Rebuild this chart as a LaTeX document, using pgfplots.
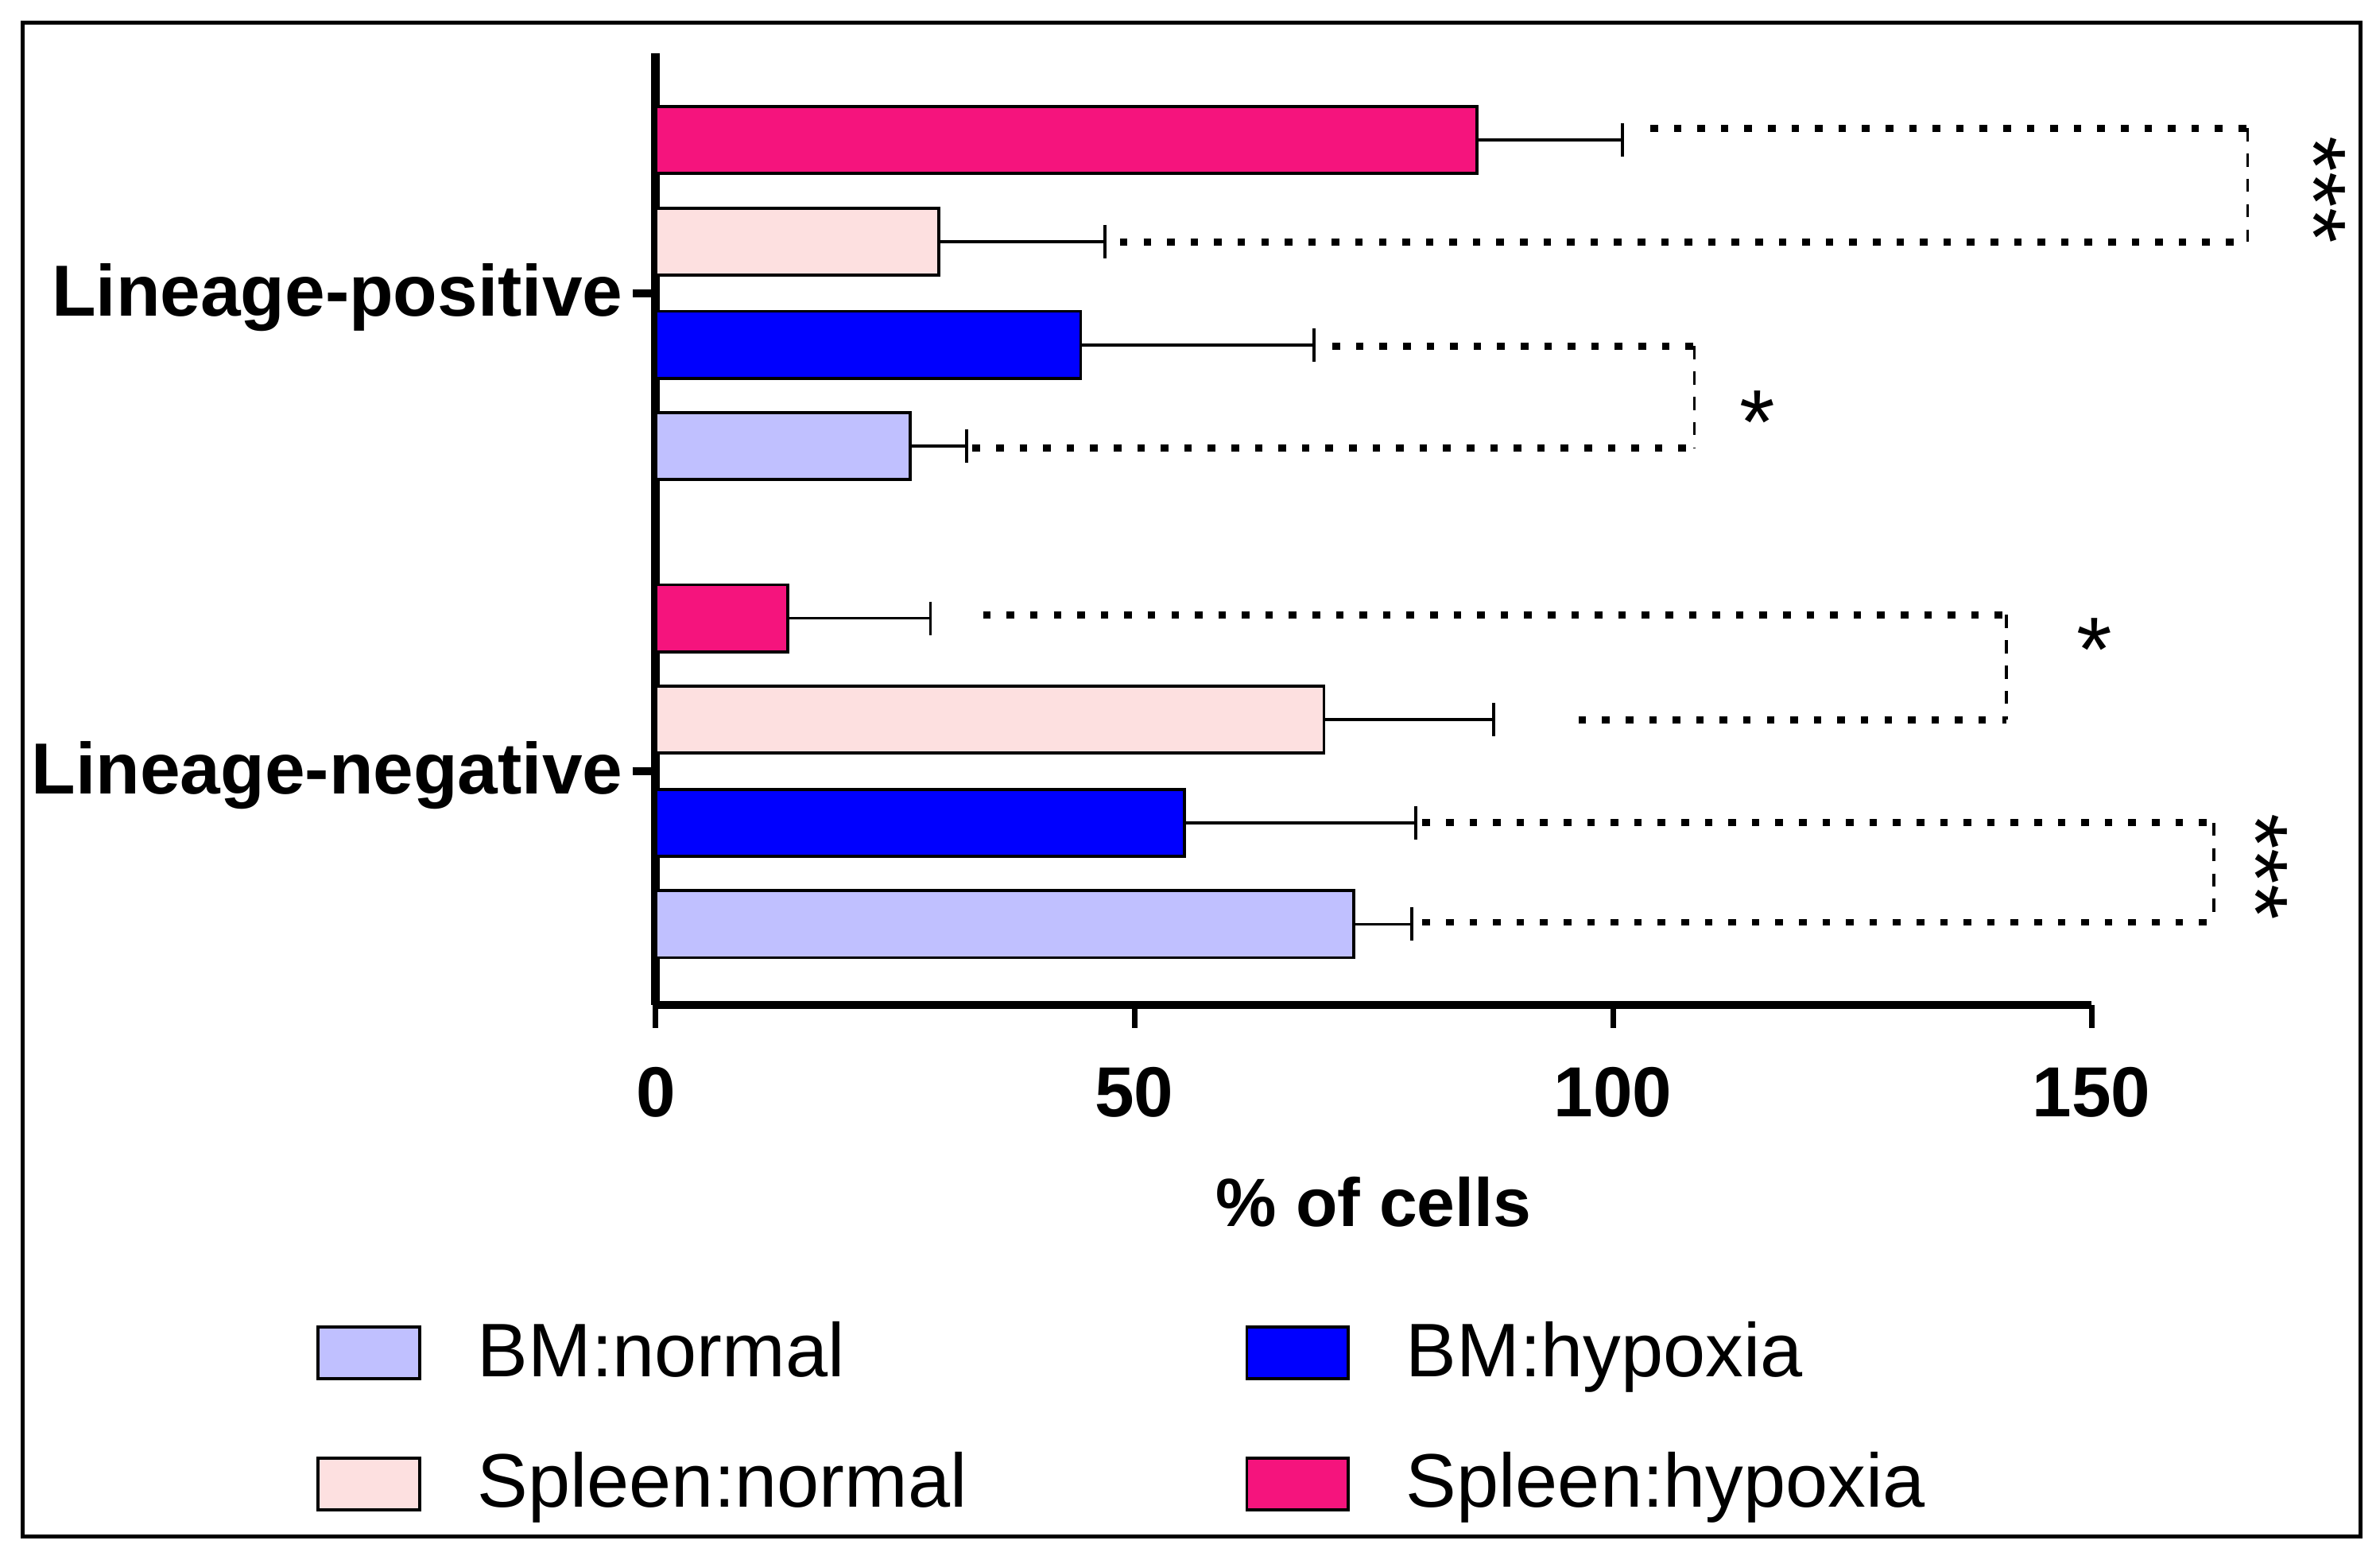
\documentclass[border=0pt]{standalone}
\usepackage{fontspec}
\setmainfont{Liberation Sans}
\usepackage{pgfplots}
\pgfplotsset{compat=1.18}
\definecolor{bmn}{RGB}{192,192,255}
\definecolor{bmh}{RGB}{0,0,255}
\definecolor{spn}{RGB}{253,224,224}
\definecolor{sph}{RGB}{245,20,125}
\pgfplotsset{
  mybar/.style={xbar, bar shift=0pt, bar width=0.14, draw=black, line width=0.6pt, fill=#1,
    legend image code/.code={\draw[##1, line width=0.6pt] (0pt,-5.1pt) rectangle (20.1pt,5.1pt);},
    error bars/.cd, x dir=plus, x explicit, error mark=|,
    error bar style={line width=0.6pt, black},
    error mark options={line width=0.6pt, black, mark size=3.3pt}},
}
\tikzset{
  dotline/.style={line width=1.4pt, dash pattern=on 1.5pt off 3.15pt},
  dashline/.style={line width=0.6pt, dash pattern=on 2.6pt off 2.4pt},
}
\begin{document}
\begin{tikzpicture}[x=1pt,y=1pt]
\begin{axis}[
  at={(129.6pt,-198.6pt)}, anchor=south west,
  scale only axis, width=283.8pt, height=188.1pt,
  xmin=0, xmax=150, ymin=-0.489, ymax=1.502,
  axis x line*=bottom, axis y line*=left,
  axis line style={line width=1.7pt, black},
  xtick={0,50,100,150}, ytick={0,1},
  yticklabels={Lineage-negative,Lineage-positive},
  minor tick num=0,
  tick align=outside,
  major tick length=4.5pt,
  xtick style={line width=1.1pt, black},
  ytick style={line width=1.6pt, black},
  /pgf/number format/assume math mode=true,
  xticklabel style={font=\bfseries\fontsize{14}{16}\selectfont, yshift=-4.2pt},
  yticklabel style={font=\bfseries\fontsize{14.3}{16}\selectfont, xshift=1.5pt, yshift=-0.8pt},
  xlabel={\% of cells},
  xlabel style={font=\bfseries\fontsize{13.5}{16}\selectfont, at={(axis description cs:0.5,-0.2073)}, anchor=center},
  clip=false,
  legend columns=2,
  legend cell align=left,
  legend style={draw=none, fill=none, at={(axis description cs:-0.2368,-0.3208)}, anchor=north west,
    inner sep=0pt, font=\fontsize{15}{18}\selectfont,
    column sep=9.1pt, row sep=9.5pt,
    /tikz/every even column/.append style={column sep=53pt}},
]
\addplot[mybar=bmn] coordinates {(72.9,-0.32) +- (6.1,0) (26.6,0.68) +- (5.9,0)};
\addplot[mybar=bmh] coordinates {(55.2,-0.108) +- (24.2,0) (44.4,0.892) +- (24.4,0)};
\addplot[mybar=spn] coordinates {(69.8,0.108) +- (17.7,0) (29.6,1.108) +- (17.3,0)};
\addplot[mybar=sph] coordinates {(13.8,0.32) +- (14.9,0) (85.8,1.32) +- (15.2,0)};
\legend{BM:normal, BM:hypoxia, Spleen:normal, Spleen:hypoxia}
% significance brackets
\draw[dotline] (axis cs:103.9,1.345) -- (axis cs:166.3,1.345);
\draw[dotline] (axis cs:48.5,1.107) -- (axis cs:166.3,1.107);
\draw[dashline] (axis cs:166.3,1.345) -- (axis cs:166.3,1.107);
\node[font=\fontsize{18}{18}\selectfont, rotate=-90] at (axis cs:173.2,1.216) {***};
\draw[dotline] (axis cs:70.7,0.889) -- (axis cs:108.5,0.889);
\draw[dotline] (axis cs:33.1,0.676) -- (axis cs:108.5,0.676);
\draw[dashline] (axis cs:108.5,0.889) -- (axis cs:108.5,0.676);
\node[font=\fontsize{18}{18}\selectfont, yshift=-3pt] at (axis cs:115.1,0.762) {*};
\draw[dotline] (axis cs:34.2,0.327) -- (axis cs:141.1,0.327);
\draw[dotline] (axis cs:96.4,0.108) -- (axis cs:141.1,0.108);
\draw[dashline] (axis cs:141.1,0.327) -- (axis cs:141.1,0.108);
\node[font=\fontsize{18}{18}\selectfont, yshift=-3pt] at (axis cs:150.3,0.286) {*};
\draw[dotline] (axis cs:80.1,-0.108) -- (axis cs:162.8,-0.108);
\draw[dotline] (axis cs:80.1,-0.316) -- (axis cs:162.8,-0.316);
\draw[dashline] (axis cs:162.8,-0.108) -- (axis cs:162.8,-0.316);
\node[font=\fontsize{18}{18}\selectfont, rotate=-90] at (axis cs:167.2,-0.200) {***};
\end{axis}
\draw[line width=0.8pt] (4.5pt,-4.5pt) rectangle (466.5pt,-303.6pt);
\pgfresetboundingbox
\path[use as bounding box] (0pt,0pt) rectangle (470.4pt,-306.6pt);
\end{tikzpicture}
\end{document}
